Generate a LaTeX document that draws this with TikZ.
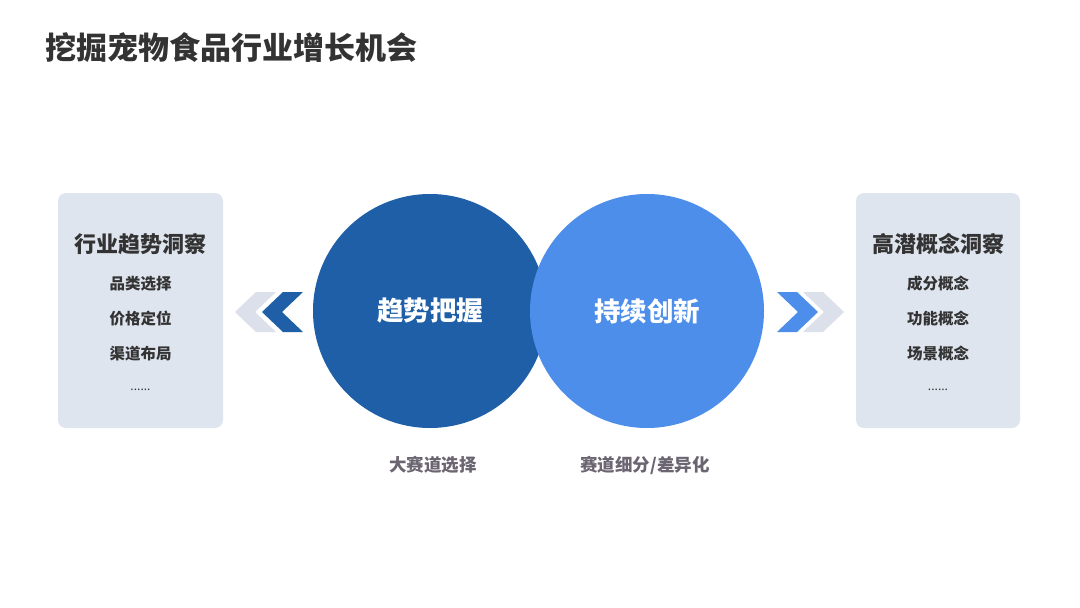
\documentclass[tikz,border=0pt]{standalone}
\usepackage{fontspec}
\setmainfont{Noto Sans CJK SC}
\usepackage{xcolor}
\usepackage{tikz}
\usetikzlibrary{positioning,calc}

\definecolor{darkblue}{HTML}{1E5FA8}
\definecolor{lightblue}{HTML}{4C8EEA}
\definecolor{boxgray}{HTML}{DFE5EF}
\definecolor{chevgray}{HTML}{DCE0EA}
\definecolor{titlegray}{HTML}{333333}
\definecolor{labelgray}{HTML}{6A6570}

\tikzset{
  panel/.style={fill=boxgray,draw=none,rounded corners=8pt},
  paneltitle/.style={font=\fontsize{22}{24}\selectfont\bfseries,text=titlegray},
  panelitem/.style={font=\fontsize{15.5}{17}\selectfont\bfseries,text=titlegray},
  bigcircle/.style={circle,minimum size=234pt,inner sep=0pt,draw=none},
  circletext/.style={font=\fontsize{26.5}{28}\selectfont\bfseries,text=white},
  undertext/.style={font=\fontsize{17.5}{19}\selectfont\bfseries,text=labelgray}
}

\begin{document}
\begin{tikzpicture}[x=1pt,y=-1pt]
\useasboundingbox[fill=white] (0,0) rectangle (1080,608);

% title
\node[anchor=west,inner sep=0pt,font=\fontsize{31}{33}\selectfont\bfseries,text=titlegray] (title) at (45,48) {挖掘宠物食品行业增长机会};

% side panels
\fill[panel] (58,193) rectangle (223,428);
\fill[panel] (856,193) rectangle (1020,428);

\node[paneltitle] (lhead) at (140.5,244) {行业趋势洞察};
\node[panelitem] (l1) at (140.5,284) {品类选择};
\node[panelitem] (l2) at (140.5,319) {价格定位};
\node[panelitem] (l3) at (140.5,354) {渠道布局};
\node[panelitem,font=\fontsize{12}{14}\selectfont] (l4) at (140.5,390) {......};

\node[paneltitle] (rhead) at (938,244) {高潜概念洞察};
\node[panelitem] (r1) at (938,284) {成分概念};
\node[panelitem] (r2) at (938,319) {功能概念};
\node[panelitem] (r3) at (938,354) {场景概念};
\node[panelitem,font=\fontsize{12}{14}\selectfont] (r4) at (938,390) {......};

% chevrons
\fill[chevgray] (276,292)--(256,292)--(235,312)--(256,332)--(276,332)--(255,312)--cycle;
\fill[darkblue] (303,292)--(283,292)--(262,312)--(283,332)--(303,332)--(282,312)--cycle;
\fill[chevgray] (803,292)--(823,292)--(844,312)--(823,332)--(803,332)--(824,312)--cycle;
\fill[lightblue] (777,292)--(797,292)--(818,312)--(797,332)--(777,332)--(798,312)--cycle;

% circles
\node[bigcircle,fill=darkblue] (trend) at (430,311) {};
\node[bigcircle,fill=lightblue] (innov) at (647,311) {};
\node[circletext] at (trend) {趋势把握};
\node[circletext] at (innov) {持续创新};

% labels below
\node[undertext] (tlabel) at (433,465) {大赛道选择};
\node[undertext] (ilabel) at (645,465) {赛道细分/差异化};
\end{tikzpicture}
\end{document}
